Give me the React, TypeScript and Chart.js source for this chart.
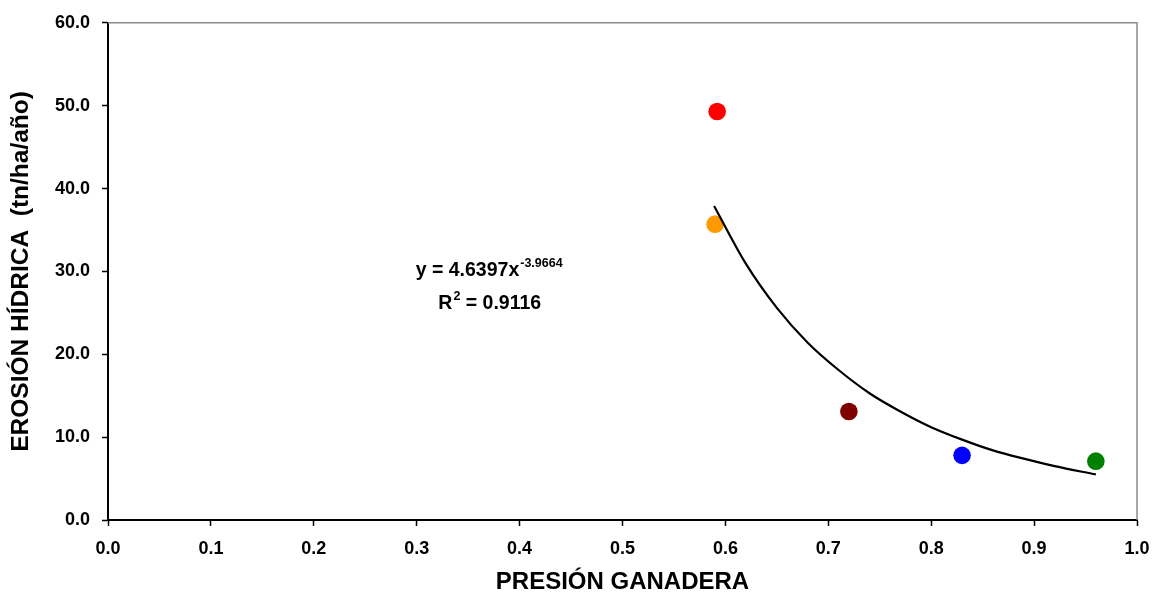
import React, { useEffect, useRef } from "react";
import { Chart, registerables } from "chart.js";

Chart.register(...registerables);

// Observed points (PRESIÓN GANADERA vs EROSIÓN HÍDRICA)
const pointX = [0.592, 0.59, 0.72, 0.83, 0.96];
const pointY = [49.3, 35.7, 13.1, 7.8, 7.1];
const pointColors = ["#FF0000", "#FF9900", "#800000", "#0000FF", "#008000"];

// Power trend line
const trendX = [0.589, 0.62, 0.65, 0.68, 0.71, 0.74, 0.77, 0.8, 0.83, 0.86, 0.89, 0.92, 0.96];
const trendY = [37.9, 30.9, 25.6, 21.4, 18.1, 15.3, 13.1, 11.2, 9.7, 8.4, 7.4, 6.5, 5.5];

const xTitle = "PRESIÓN GANADERA";
const yTitle = "EROSIÓN HÍDRICA  (tn/ha/año)";
const eqMain = "y = 4.6397x";
const eqExp = "-3.9664";
const r2Label = "R";
const r2Sup = "2";
const r2Value = " = 0.9116";

const FONT = "'Liberation Sans', Arial, sans-serif";

const decorPlugin = {
  id: "decor",
  beforeDatasetsDraw(chart: any) {
    const { ctx, chartArea } = chart;
    ctx.save();
    ctx.strokeStyle = "#8c8c8c";
    ctx.lineWidth = 1.5;
    ctx.beginPath();
    ctx.moveTo(chartArea.left, chartArea.top);
    ctx.lineTo(chartArea.right, chartArea.top);
    ctx.lineTo(chartArea.right, chartArea.bottom);
    ctx.stroke();
    ctx.restore();
  },
  afterDraw(chart: any) {
    const { ctx } = chart;
    const xs = chart.scales.x;
    const ys = chart.scales.y;
    ctx.save();
    ctx.fillStyle = "#000";
    ctx.textBaseline = "alphabetic";
    ctx.textAlign = "left";
    // equation line
    let x = xs.getPixelForValue(0.299);
    let y = ys.getPixelForValue(29.5);
    ctx.font = `bold 19.5px ${FONT}`;
    ctx.fillText(eqMain, x, y);
    x += ctx.measureText(eqMain).width;
    ctx.font = `bold 12.5px ${FONT}`;
    ctx.fillText(eqExp, x + 1, y - 9);
    // R² line
    x = xs.getPixelForValue(0.321);
    y = ys.getPixelForValue(25.5);
    ctx.font = `bold 19.5px ${FONT}`;
    ctx.fillText(r2Label, x, y);
    x += ctx.measureText(r2Label).width;
    ctx.font = `bold 12.5px ${FONT}`;
    ctx.fillText(r2Sup, x + 1, y - 9);
    x += ctx.measureText(r2Sup).width + 1;
    ctx.font = `bold 19.5px ${FONT}`;
    ctx.fillText(r2Value, x, y);
    ctx.restore();
  },
};

export default function App() {
  const ref = useRef<HTMLCanvasElement | null>(null);

  useEffect(() => {
    if (!ref.current) return;
    const chart = new Chart(ref.current, {
      type: "scatter",
      data: {
        datasets: [
          {
            label: "Tendencia",
            data: trendX.map((v, i) => ({ x: v, y: trendY[i] })),
            showLine: true,
            borderColor: "#000",
            borderWidth: 2.2,
            pointRadius: 0,
            cubicInterpolationMode: "monotone",
            fill: false,
          },
          {
            label: "Datos",
            data: pointX.map((v, i) => ({ x: v, y: pointY[i] })),
            pointRadius: 8.8,
            pointStyle: "circle",
            pointBackgroundColor: pointColors,
            pointBorderColor: pointColors,
            pointBorderWidth: 0,
          },
        ],
      },
      options: {
        responsive: false,
        animation: false,
        devicePixelRatio: 1,
        layout: { padding: { left: 0, top: 21, right: 0, bottom: 0 } },
        plugins: {
          legend: { display: false },
          tooltip: { enabled: false },
        },
        scales: {
          x: {
            type: "linear",
            min: 0,
            max: 1,
            ticks: {
              stepSize: 0.1,
              color: "#000",
              padding: 12,
              font: { family: FONT, size: 18, weight: "bold" },
              callback: (v: any) => Number(v).toFixed(1),
            },
            grid: {
              drawOnChartArea: false,
              drawTicks: true,
              tickLength: 6,
              tickColor: "#000",
              tickWidth: 1.5,
            },
            border: { color: "#000", width: 2 },
            title: {
              display: true,
              text: xTitle,
              color: "#000",
              font: { family: FONT, size: 24, weight: "bold" },
              padding: { top: 0, bottom: 4 },
            },
            afterFit: (s: any) => {
              s.height = 81;
              s.paddingRight = 16;
            },
          },
          y: {
            type: "linear",
            min: 0,
            max: 60,
            ticks: {
              stepSize: 10,
              color: "#000",
              padding: 12,
              font: { family: FONT, size: 18, weight: "bold" },
              callback: (v: any) => Number(v).toFixed(1),
            },
            grid: {
              drawOnChartArea: false,
              drawTicks: true,
              tickLength: 6,
              tickColor: "#000",
              tickWidth: 1.5,
            },
            border: { color: "#000", width: 2 },
            title: {
              display: true,
              text: yTitle,
              color: "#000",
              font: { family: FONT, size: 24.5, weight: "bold" },
              padding: { top: 7, bottom: 0 },
            },
            afterFit: (s: any) => {
              s.width = 108;
            },
          },
        },
      } as any,
      plugins: [decorPlugin],
    });
    return () => chart.destroy();
  }, []);

  return (
    <div style={{ position: "fixed", left: 0, top: 0, width: 1153, height: 601, background: "#fff" }}>
      <canvas ref={ref} width={1153} height={601} style={{ display: "block" }} />
    </div>
  );
}
